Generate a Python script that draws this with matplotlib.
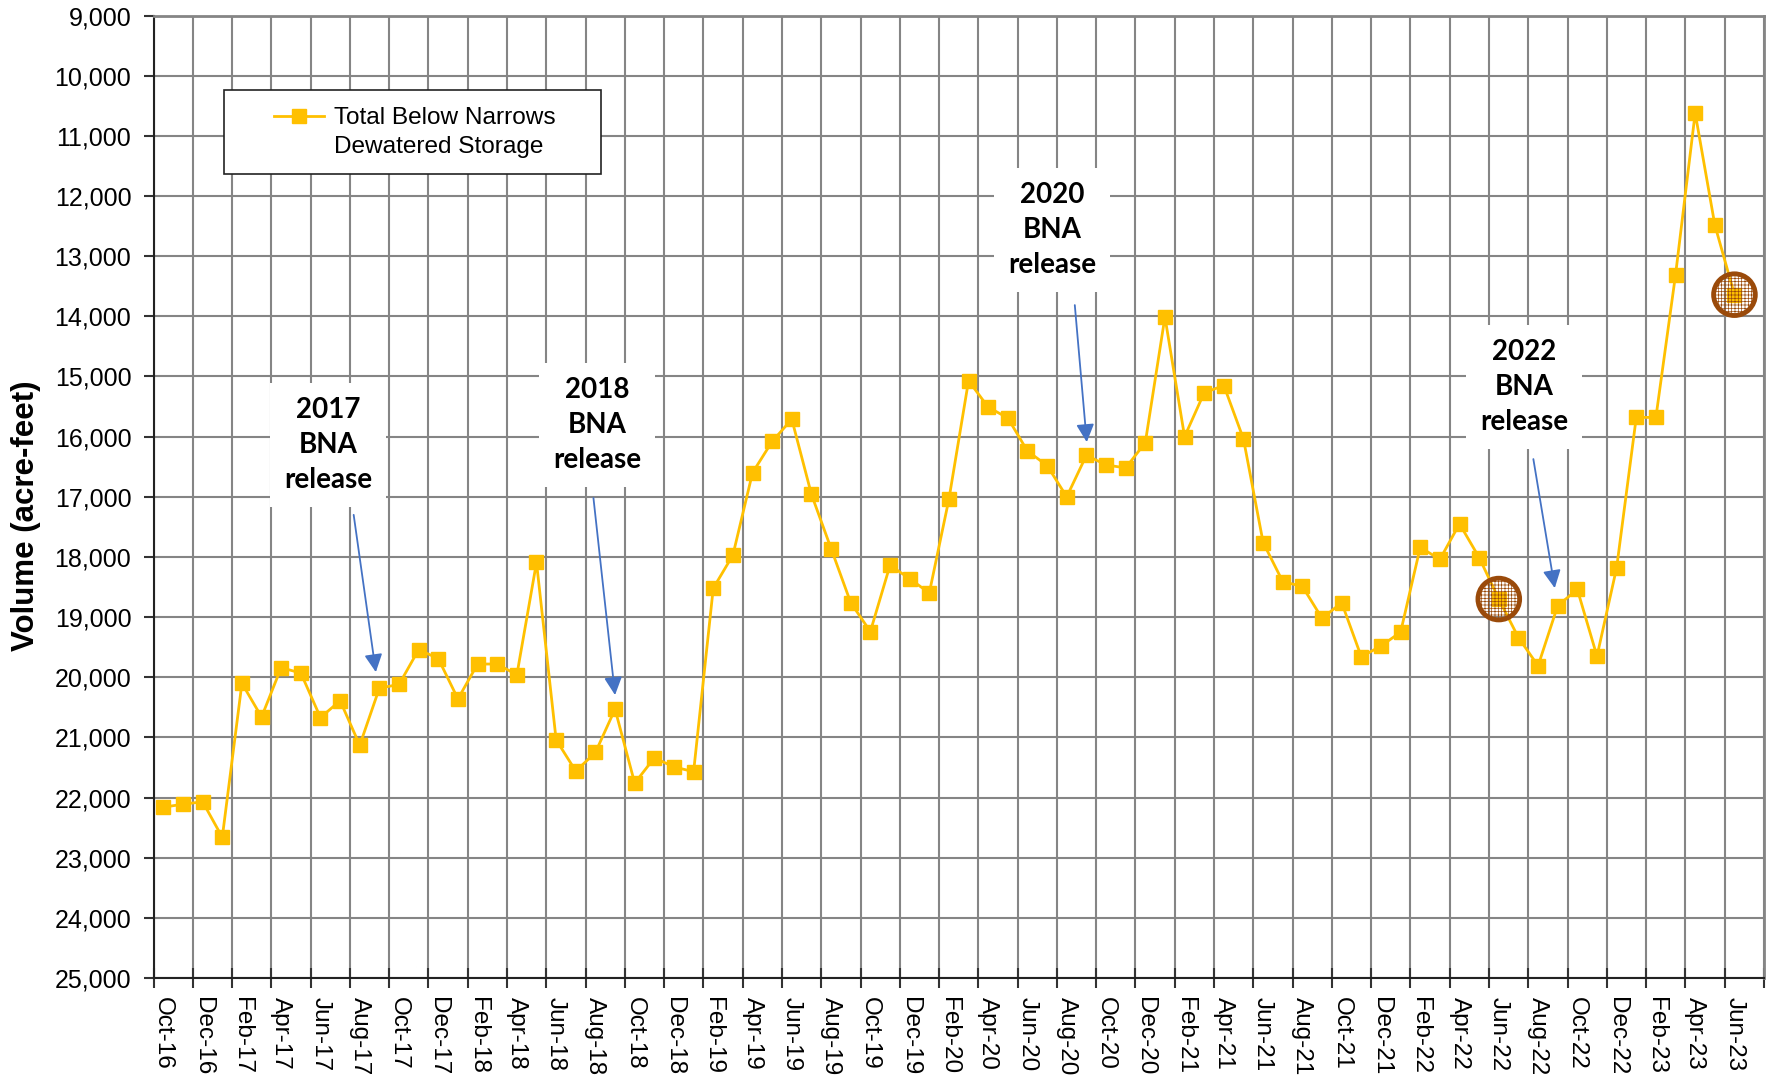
import matplotlib
matplotlib.use("Agg")
import matplotlib.pyplot as plt
import pandas as pd
from matplotlib.patches import Rectangle
from matplotlib.lines import Line2D

plt.rcParams['font.family'] = ['Liberation Sans', 'DejaVu Sans']
plt.rcParams['hatch.color'] = '#C89A70'
plt.rcParams['hatch.linewidth'] = 0.5

# one category per month, Oct-16 .. Jul-23 (last bin empty)
months = pd.date_range("2016-10-01", periods=82, freq="MS").strftime("%b-%y").tolist()

# Total Below Narrows dewatered storage (acre-feet), Oct-16 .. Jun-23
storage = [22160, 22110, 22070, 22660, 20100, 20660, 19840, 19930, 20670, 20390,
           21130, 20180, 20120, 19540, 19690, 20360, 19780, 19780, 19960, 18090,
           21040, 21560, 21250, 20530, 21760, 21340, 21490, 21570, 18520, 17970,
           16600, 16080, 15710, 16960, 17860, 18760, 19240, 18140, 18360, 18600,
           17040, 15070, 15510, 15690, 16240, 16480, 17000, 16310, 16470, 16520,
           16100, 14010, 16000, 15270, 15150, 16040, 17760, 18410, 18490, 19020,
           18760, 19660, 19480, 19250, 17840, 18040, 17450, 18010, 18700, 19340,
           19810, 18810, 18540, 19650, 18180, 15680, 15680, 13310, 10620, 12480,
           13640]

circled = ["Jun-22", "Jun-23"]

# BNA release notes: text, text centre (month index, value), arrow start, arrow tip
notes = [
    ("2017\nBNA\nrelease", (8.38, 16140), (9.69, 17300), (10.82, 19915)),
    ("2018\nBNA\nrelease", (22.10, 15808), (21.90, 17020), (23.00, 20296)),
    ("2020\nBNA\nrelease", (45.24, 12566), (46.41, 13813), (47.02, 16091)),
    ("2022\nBNA\nrelease", (69.28, 15176), (69.76, 16373), (70.85, 18518)),
]

yellow = '#FFC000'
grid_col = '#858585'

fig = plt.figure(figsize=(17.71, 10.80), dpi=100)
ax = fig.add_axes([0.0867, 0.0944, 0.9093, 0.8912])

x = list(range(len(storage)))
ax.plot(x, storage, color=yellow, lw=2, marker='s', ms=10,
        mfc=yellow, mec=yellow, zorder=5)

cx = [months.index(m) for m in circled]
cy = [storage[i] for i in cx]
ax.scatter(cx, cy, s=900, marker='o', facecolors='none', edgecolors='#9A4A0A',
           linewidths=3.5, hatch='+++++', zorder=6)

ax.set_xlim(-0.5, len(months) - 0.5)
ax.set_ylim(25000, 9000)

# gridlines / ticks on category boundaries every 2 months, labels on centres
bounds = [i - 0.5 for i in range(0, len(months) + 1, 2)]
ax.set_xticks(bounds)
ax.set_xticklabels([])
centres = list(range(0, len(storage), 2))
ax.set_xticks(centres, [months[i] for i in centres], minor=True)
ax.tick_params(axis='x', which='major', direction='inout', length=14, width=1.5, color='#333333')
ax.tick_params(axis='x', which='minor', length=0, pad=14, labelsize=17.5, labelrotation=-90)
for lab in ax.get_xticklabels(minor=True):
    lab.set_va('top')
    lab.set_ha('center')

yt = list(range(9000, 25001, 1000))
ax.set_yticks(yt, [f"{v:,}" for v in yt])
ax.tick_params(axis='y', direction='out', length=7, width=1.5, pad=9, labelsize=18, color='#333333')

ax.grid(True, which='major', color=grid_col, lw=1.5)
ax.set_axisbelow(True)

for side in ['left', 'bottom']:
    ax.spines[side].set_color('#222222')
    ax.spines[side].set_linewidth(1.5)
for side in ['top', 'right']:
    ax.spines[side].set_color(grid_col)
    ax.spines[side].set_linewidth(2)

ax.set_ylabel("Volume (acre-feet)", fontsize=22.5, fontweight='bold')
ax.yaxis.set_label_coords(-0.07, 0.48)

# legend: frame drawn separately to get the wide padding
ax.add_patch(Rectangle((0.0437, 0.8353), 0.2341, 0.0873, transform=ax.transAxes,
                       fc='white', ec='#222222', lw=1.2, zorder=7))
handles = [Line2D([], [], color=yellow, lw=2, marker='s', ms=10, mfc=yellow, mec=yellow),
           Line2D([], [], color='none')]
leg = ax.legend(handles, ["Total Below Narrows", "Dewatered Storage"],
                loc='upper left', bbox_to_anchor=(0.0748, 0.905), frameon=False,
                borderpad=0, borderaxespad=0, handlelength=2.05, handletextpad=0.4,
                labelspacing=0.26, fontsize=17.6)
leg.set_zorder(8)

for text, pos, start, tip in notes:
    ax.text(pos[0], pos[1], text, ha='center', va='center', fontsize=20,
            fontweight='bold', family=['Lato', 'DejaVu Sans'], linespacing=1.42,
            bbox=dict(boxstyle='square,pad=0.5', fc='white', ec='none'), zorder=3)
    ax.annotate('', xy=tip, xytext=start,
                arrowprops=dict(arrowstyle='-|>,head_length=0.9,head_width=0.45',
                                color='#4472C4', lw=1.3, mutation_scale=12,
                                shrinkA=0, shrinkB=0), zorder=4)

fig.savefig("out.png", dpi=100)
